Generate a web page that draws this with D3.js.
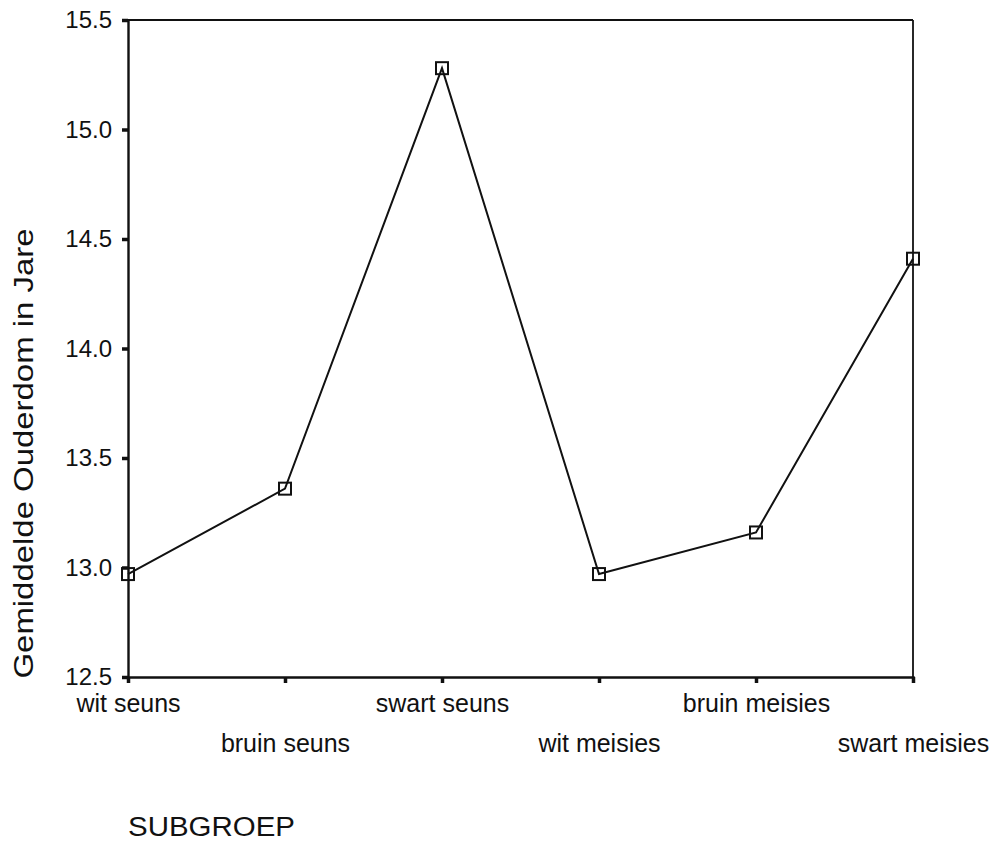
<!DOCTYPE html>
<html>
<head>
<meta charset="utf-8">
<script src="https://cdn.jsdelivr.net/npm/d3@7"></script>
<style>
  html, body { margin: 0; padding: 0; background: #fff; }
  svg { display: block; }
  text { font-family: "Liberation Sans", Arial, sans-serif; fill: #111; }
</style>
</head>
<body>
<svg id="chart" width="993" height="843"></svg>
<script>
const categories = ["wit seuns", "bruin seuns", "swart seuns", "wit meisies", "bruin meisies", "swart meisies"];
const values = [12.97, 13.36, 15.28, 12.97, 13.16, 14.41];
const yTicks = [12.5, 13.0, 13.5, 14.0, 14.5, 15.0, 15.5];
const yTitle = "Gemiddelde Ouderdom in Jare";
const xTitle = "SUBGROEP";

const svg = d3.select("#chart");
const mLeft = 128, mRight = 913, mTop = 20, mBottom = 677;

const x = d3.scalePoint().domain(categories).range([mLeft, mRight]).padding(0);
const y = d3.scaleLinear().domain([12.5, 15.5]).range([mBottom, mTop]);

// frame (top and right)
svg.append("line").attr("x1", mLeft).attr("x2", mRight).attr("y1", mTop).attr("y2", mTop)
  .attr("stroke", "#111").attr("stroke-width", 1.8);
svg.append("line").attr("x1", mRight).attr("x2", mRight).attr("y1", mTop).attr("y2", mBottom)
  .attr("stroke", "#111").attr("stroke-width", 1.8);

// y axis
const yAxis = svg.append("g").attr("transform", `translate(${mLeft},0)`)
  .call(d3.axisLeft(y).tickValues(yTicks).tickFormat(d3.format(".1f")).tickSize(6).tickPadding(10));
yAxis.select(".domain").attr("stroke", "#111").attr("stroke-width", 2.4);
yAxis.selectAll(".tick line").attr("stroke", "#111").attr("stroke-width", 3.5);
yAxis.selectAll(".tick text").attr("font-size", 24).attr("font-family", "Liberation Sans, Arial, sans-serif").attr("fill", "#111");

// x axis
const xAxis = svg.append("g").attr("transform", `translate(0,${mBottom})`)
  .call(d3.axisBottom(x).tickSize(6).tickFormat(""));
xAxis.select(".domain").attr("stroke", "#111").attr("stroke-width", 2.4);
xAxis.selectAll(".tick line").attr("stroke", "#111").attr("stroke-width", 3.5);
xAxis.selectAll(".tick").append("text")
  .attr("y", (d, i) => i % 2 === 0 ? 35 : 75)
  .attr("text-anchor", "middle")
  .attr("font-size", 25)
  .attr("fill", "#111")
  .attr("font-family", "Liberation Sans, Arial, sans-serif")
  .text(d => d);

// line
const line = d3.line().x((d, i) => x(categories[i])).y(d => y(d));
svg.append("path").datum(values).attr("d", line)
  .attr("fill", "none").attr("stroke", "#111").attr("stroke-width", 2);

// markers
const ms = 12;
svg.append("g").selectAll("rect").data(values).join("rect")
  .attr("x", (d, i) => x(categories[i]) - ms / 2)
  .attr("y", d => y(d) - ms / 2)
  .attr("width", ms).attr("height", ms)
  .attr("fill", "none").attr("stroke", "#111").attr("stroke-width", 2);

// y title
svg.append("text")
  .attr("transform", `translate(33,${(227 + 680) / 2}) rotate(-90)`)
  .attr("text-anchor", "middle")
  .attr("font-size", 28)
  .attr("textLength", 450)
  .attr("lengthAdjust", "spacingAndGlyphs")
  .text(yTitle);

// x title
svg.append("text")
  .attr("x", 128).attr("y", 836)
  .attr("font-size", 27)
  .attr("textLength", 167)
  .attr("lengthAdjust", "spacingAndGlyphs")
  .text(xTitle);
</script>
</body>
</html>
